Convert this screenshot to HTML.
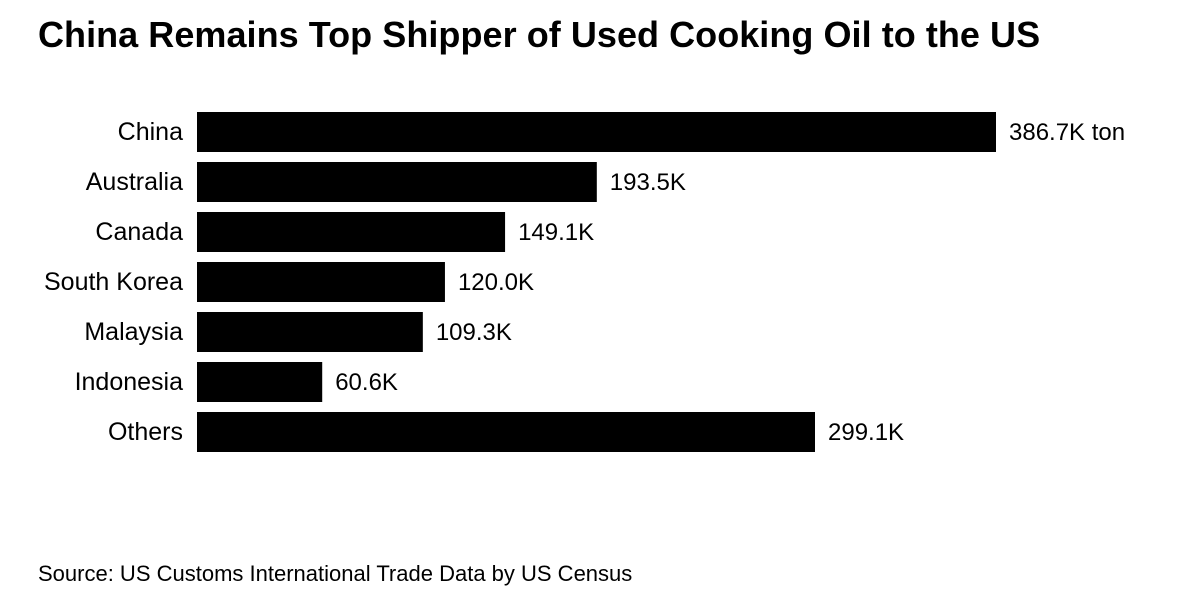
<!DOCTYPE html>
<html><head><meta charset="utf-8"><style>
body{margin:0;width:1200px;height:612px;background:#fff;overflow:hidden;font-family:"Liberation Sans",sans-serif;}
#title{position:absolute;left:38px;top:14px;font-size:36px;font-weight:bold;color:#000;letter-spacing:0.05px;white-space:nowrap;}
#source{position:absolute;left:38px;top:561px;font-size:22px;color:#000;white-space:nowrap;}
svg{position:absolute;left:0;top:0;}
</style></head><body>
<div id="title">China Remains Top Shipper of Used Cooking Oil to the US</div>
<svg id="chart" width="1200" height="612">
<defs><clipPath id="clip"><rect x="0" y="0" width="1130" height="612"/></clipPath></defs>
<g id="plot" clip-path="url(#clip)"></g>
</svg>
<div id="source">Source: US Customs International Trade Data by US Census</div>
<script>
const categories=["China","Australia","Canada","South Korea","Malaysia","Indonesia","Others"];
const values=[386.7,193.5,149.1,120.0,109.3,60.6,299.1];
const valueLabels=["386.7K ton","193.5K","149.1K","120.0K","109.3K","60.6K","299.1K"];
const svg=document.getElementById('plot');
const NS='http://www.w3.org/2000/svg';
const x0=197,scale=799/386.7;
const xs=v=>x0+v*scale;
const ys=i=>112+i*50;
const bh=40;
categories.forEach((c,i)=>{
  const r=document.createElementNS(NS,'rect');
  r.setAttribute('x',x0);r.setAttribute('y',ys(i));
  r.setAttribute('width',xs(values[i])-x0);r.setAttribute('height',bh);
  r.setAttribute('fill','#000');
  
  
  svg.appendChild(r);
  const t=document.createElementNS(NS,'text');
  t.setAttribute('x',183);t.setAttribute('y',ys(i)+bh/2+8);
  t.setAttribute('text-anchor','end');t.setAttribute('font-size','25');
  t.setAttribute('font-family','Liberation Sans, sans-serif');
  t.textContent=c;
  
  
  svg.appendChild(t);
  const v=document.createElementNS(NS,'text');
  v.setAttribute('x',xs(values[i])+13);v.setAttribute('y',ys(i)+bh/2+8);
  v.setAttribute('font-size','24');
  v.setAttribute('font-family','Liberation Sans, sans-serif');
  v.textContent=valueLabels[i];
  
  
  svg.appendChild(v);
});
</script>
</body></html>
